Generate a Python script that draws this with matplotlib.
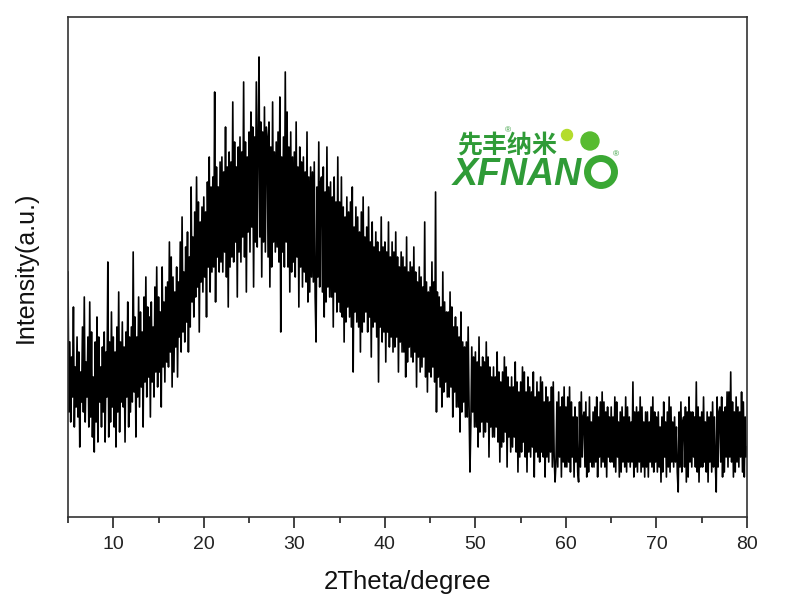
import numpy as np
import matplotlib
matplotlib.use("Agg")
import matplotlib.pyplot as plt
from matplotlib.patches import Circle
from matplotlib.ticker import MultipleLocator

# 2-theta grid: 5.0 .. 80.0 in 0.1 degree steps
two_theta_start = 5.0
two_theta_step = 0.1

# intensity (a.u.), 10 points per degree
intensity = [
    49, 21, 35, 19, 32, 24, 42, 18, 30, 22,   # 5
    36, 20, 33, 14, 29, 23, 38, 21, 44, 19,   # 6
    31, 24, 36, 18, 43, 20, 37, 16, 28, 13,   # 7
    35, 19, 40, 15, 36, 23, 30, 18, 34, 21,   # 8
    37, 15, 33, 24, 51, 16, 35, 19, 41, 22,   # 9
    36, 18, 33, 14, 38, 21, 45, 17, 35, 23,   # 10
    39, 22, 34, 15, 37, 24, 43, 18, 36, 21,   # 11
    38, 23, 53, 25, 40, 16, 36, 24, 44, 22,   # 12
    41, 26, 37, 18, 44, 27, 48, 24, 42, 28,   # 13
    40, 20, 43, 27, 38, 24, 46, 29, 50, 26,   # 14
    44, 29, 41, 22, 50, 30, 43, 27, 46, 31,   # 15
    47, 30, 55, 33, 52, 26, 48, 29, 45, 34,   # 16
    50, 28, 47, 36, 55, 33, 60, 37, 49, 35,   # 17
    54, 39, 57, 33, 52, 38, 66, 43, 56, 40,   # 18
    61, 44, 68, 46, 63, 37, 59, 47, 62, 45,   # 19
    64, 48, 61, 40, 67, 50, 72, 45, 66, 49,   # 20
    68, 50, 85, 43, 70, 52, 66, 49, 71, 51,   # 21
    72, 49, 69, 53, 78, 48, 70, 42, 73, 50,   # 22
    71, 52, 83, 51, 75, 55, 70, 44, 74, 53,   # 23
    76, 51, 73, 56, 87, 52, 75, 45, 72, 57,   # 24
    77, 53, 81, 58, 78, 46, 76, 55, 87, 54,   # 25
    75, 92, 56, 79, 48, 77, 55, 82, 53, 78,   # 26
    76, 52, 79, 46, 74, 50, 83, 55, 73, 53,   # 27
    75, 54, 77, 51, 84, 37, 72, 53, 76, 50,   # 28
    89, 55, 81, 50, 74, 45, 77, 49, 72, 51,   # 29
    73, 48, 79, 52, 70, 42, 74, 50, 71, 46,   # 30
    72, 49, 69, 47, 77, 43, 68, 45, 70, 48,   # 31
    69, 47, 71, 44, 35, 66, 48, 75, 46, 67,   # 32
    68, 45, 70, 40, 65, 43, 74, 46, 66, 44,   # 33
    67, 44, 64, 38, 68, 45, 63, 41, 72, 43,   # 34
    63, 41, 68, 40, 62, 35, 60, 39, 64, 42,   # 35
    61, 40, 63, 38, 66, 29, 58, 41, 62, 39,   # 36
    60, 38, 57, 33, 61, 37, 64, 39, 56, 41,   # 37
    58, 37, 62, 40, 55, 32, 59, 38, 54, 39,   # 38
    57, 36, 55, 27, 53, 38, 60, 35, 54, 37,   # 39
    55, 31, 53, 37, 59, 34, 52, 36, 55, 33,   # 40
    53, 34, 57, 36, 52, 29, 50, 35, 53, 33,   # 41
    52, 33, 50, 28, 56, 31, 49, 34, 51, 32,   # 42
    50, 31, 54, 33, 49, 26, 47, 32, 50, 29,   # 43
    48, 30, 46, 32, 59, 28, 47, 25, 45, 29,   # 44
    46, 28, 51, 30, 47, 27, 65, 21, 45, 28,   # 45
    44, 26, 42, 22, 49, 25, 43, 27, 41, 24,   # 46
    41, 24, 45, 26, 42, 20, 38, 25, 40, 22,   # 47
    38, 22, 36, 17, 41, 21, 35, 23, 34, 20,   # 48
    35, 20, 38, 22, 9, 19, 34, 21, 32, 18,    # 49
    33, 18, 31, 14, 36, 17, 30, 19, 32, 16,   # 50
    31, 17, 35, 19, 32, 12, 30, 18, 28, 16,   # 51
    30, 16, 28, 18, 33, 15, 29, 11, 27, 14,   # 52
    29, 15, 32, 17, 30, 10, 28, 16, 26, 13,   # 53
    28, 14, 26, 16, 31, 13, 27, 9, 25, 12,    # 54
    27, 13, 30, 15, 29, 12, 25, 9, 28, 13,    # 55
    26, 12, 25, 14, 29, 8, 24, 13, 27, 12,    # 56
    25, 11, 28, 13, 27, 12, 23, 8, 26, 12,    # 57
    24, 11, 23, 13, 26, 10, 27, 12, 7, 11,    # 58
    23, 10, 25, 12, 22, 8, 24, 11, 26, 10,    # 59
    22, 10, 24, 11, 26, 9, 23, 12, 20, 8,     # 60
    22, 11, 20, 9, 7, 23, 10, 25, 12, 20,     # 61
    21, 10, 23, 8, 20, 9, 24, 11, 19, 10,     # 62
    21, 10, 22, 11, 24, 8, 20, 12, 23, 10,    # 63
    25, 11, 23, 10, 21, 8, 22, 12, 20, 11,    # 64
    22, 11, 20, 10, 24, 9, 23, 12, 19, 8,     # 65
    21, 9, 22, 11, 20, 10, 24, 9, 22, 11,     # 66
    20, 10, 19, 11, 27, 8, 21, 10, 22, 9,     # 67
    21, 11, 24, 9, 22, 10, 19, 8, 21, 10,     # 68
    21, 8, 19, 11, 22, 10, 24, 9, 21, 11,     # 69
    20, 9, 21, 10, 18, 7, 20, 9, 23, 12,      # 70
    19, 8, 21, 10, 24, 9, 22, 11, 19, 10,     # 71
    20, 11, 18, 9, 5, 21, 10, 23, 9, 19,      # 72
    20, 10, 22, 7, 21, 8, 24, 11, 21, 10,     # 73
    21, 12, 20, 10, 27, 9, 22, 7, 20, 10,     # 74
    21, 10, 24, 11, 19, 9, 21, 7, 20, 11,     # 75
    21, 9, 23, 10, 20, 11, 5, 24, 10, 21,     # 76
    22, 11, 24, 8, 21, 9, 22, 12, 25, 10,     # 77
    25, 12, 29, 11, 23, 8, 21, 9, 24, 11,     # 78
    22, 10, 21, 12, 25, 9, 23, 8, 20, 12,     # 79
    14,                                       # 80
]

x_ticks = [10, 20, 30, 40, 50, 60, 70, 80]
x_label = "2Theta/degree"
y_label = "Intensity(a.u.)"

two_theta = two_theta_start + two_theta_step * np.arange(len(intensity))

plt.rcParams['font.family'] = ['Liberation Sans', 'DejaVu Sans']

W, H = 801, 607
fig = plt.figure(figsize=(W / 100, H / 100), dpi=100)
ax = fig.add_axes([68 / W, 1 - 517 / H, (747 - 68) / W, (517 - 17) / H])

ax.plot(two_theta, intensity, color='black', linewidth=1.2)
ax.set_xlim(5, 80)
ax.set_ylim(0, 100)
ax.set_xticks(x_ticks)
ax.set_xticklabels([str(t) for t in x_ticks])
ax.xaxis.set_minor_locator(MultipleLocator(5))
ax.tick_params(axis='x', which='major', direction='out', length=8, width=1.2,
               labelsize=14, colors='#222222', pad=6)
ax.tick_params(axis='x', which='minor', direction='out', length=4.5, width=1.2,
               colors='#222222')
ax.set_yticks([])
for s in ax.spines.values():
    s.set_linewidth(1.2)
    s.set_color('#333333')

ax.set_xlabel(x_label, fontsize=18.5, color='#111111', labelpad=12)
ax.set_ylabel(y_label, fontsize=18, color='#111111', labelpad=22)

# logo overlay in pixel coordinates
ov = fig.add_axes([0, 0, 1, 1], zorder=5)
ov.set_xlim(0, W)
ov.set_ylim(H, 0)
ov.axis('off')
green = '#2f9b37'
ov.text(457, 146, "先丰纳米", fontsize=18, color=green,
        family=['Noto Sans CJK SC', 'DejaVu Sans'], fontweight='bold',
        va='center', ha='left')
ov.text(508, 131, "®", fontsize=6, color=green, va='center', ha='center')
ov.text(453, 175, "XFNAN", fontsize=27, color=green, fontweight='bold',
        style='italic', va='center', ha='left')
ov.add_patch(Circle((601, 172), 13.5, fill=False, edgecolor='#3aa834', linewidth=5))
ov.add_patch(Circle((567, 135), 5.5, color='#b4dc2c'))
ov.add_patch(Circle((590, 141), 9, color='#57bb30'))
ov.text(616, 155, "®", fontsize=6, color=green, va='center', ha='center')

fig.savefig("out.png", dpi=100)
